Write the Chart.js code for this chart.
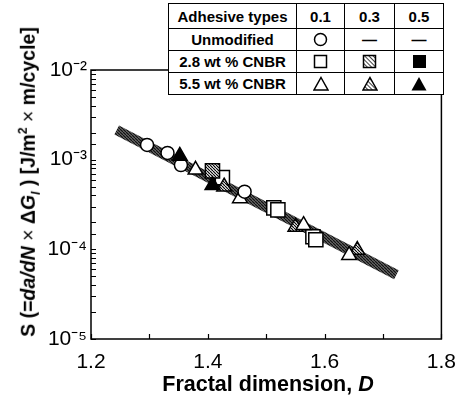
<!DOCTYPE html>
<html lang="en">
<head>
    <meta charset="UTF-8">
    <title>Fractal dimension vs S</title>
    <script src="https://cdn.jsdelivr.net/npm/chart.js@4.4.1/dist/chart.umd.min.js"></script>
    <style>
        body { margin: 0; background: #fff; font-family: "Liberation Sans", Arial, sans-serif; }
        #wrap { position: relative; width: 467px; height: 404px; }
        #ytitle {
            position: absolute; left: 29px; top: 182px;
            transform: translate(-50%, -50%) rotate(-90deg);
            white-space: nowrap; font-weight: bold; font-size: 19.5px;
        }
        #xtitle {
            position: absolute; left: 268px; top: 384px;
            transform: translate(-50%, -50%);
            white-space: nowrap; font-weight: bold; font-size: 21.5px;
        }
        .thin { font-weight: normal; }
        #types {
            position: absolute; left: 168px; top: 3px; width: 275px;
            border-collapse: collapse; table-layout: fixed; background: #fff;
            font-weight: bold; font-size: 15px;
        }
        #types td { border: 1.5px solid #000; text-align: center; padding: 0; height: 21px; }
        #types tr:first-child td { height: 24px; }
        #types svg { display: block; margin: 0 auto; }
    </style>
</head>
<body>
<div id="wrap">
    <canvas id="chart" width="467" height="404"></canvas>
    <div id="ytitle">S (=<i>da/dN</i> <span class="thin">×</span> Δ<i>G<sub style="font-size:12px">I</sub></i> ) [J/m<sup style="font-size:12px">2</sup> <span class="thin">×</span> m/cycle]</div>
    <div id="xtitle">Fractal dimension, <i>D</i></div>
    <svg width="0" height="0" style="position:absolute">
        <defs>
            <pattern id="hat" width="3" height="3" patternUnits="userSpaceOnUse" patternTransform="rotate(-45)">
                <line x1="0" y1="0" x2="0" y2="3" stroke="#000" stroke-width="1.5"/>
            </pattern>
        </defs>
    </svg>
    <table id="types">
        <colgroup><col style="width:128px"><col style="width:48px"><col style="width:50px"><col style="width:49px"></colgroup>
        <tr><td>Adhesive types</td><td>0.1</td><td>0.3</td><td>0.5</td></tr>
        <tr><td>Unmodified</td>
            <td><svg width="15" height="15"><circle cx="7.5" cy="7.5" r="6" fill="#fff" stroke="#000" stroke-width="1.5"/></svg></td>
            <td>—</td><td>—</td></tr>
        <tr><td>2.8 wt % CNBR</td>
            <td><svg width="15" height="15"><rect x="1.5" y="1.5" width="12" height="12" fill="#fff" stroke="#000" stroke-width="1.5"/></svg></td>
            <td><svg width="15" height="15"><rect x="1.5" y="1.5" width="12" height="12" fill="url(#hat)" stroke="#000" stroke-width="1.5"/></svg></td>
            <td><svg width="15" height="15"><rect x="1" y="1" width="13" height="13" fill="#000"/></svg></td></tr>
        <tr><td>5.5 wt % CNBR</td>
            <td><svg width="16" height="15"><polygon points="8,1.5 15,14 1,14" fill="#fff" stroke="#000" stroke-width="1.5"/></svg></td>
            <td><svg width="16" height="15"><polygon points="8,1.5 15,14 1,14" fill="url(#hat)" stroke="#000" stroke-width="1.5"/></svg></td>
            <td><svg width="16" height="15"><polygon points="8,1 15.5,14.5 0.5,14.5" fill="#000"/></svg></td></tr>
    </table>
</div>
<script>
// values: D (fractal dimension) and S (J/m^2 x m/cycle)
const unmodD   = [1.296, 1.331, 1.354, 1.463];
const unmodS   = [1.46e-3, 1.19e-3, 8.7e-4, 4.4e-4];
const sq01D    = [1.425, 1.513, 1.520, 1.580, 1.585];
const sq01S    = [6.3e-4, 2.9e-4, 2.75e-4, 1.38e-4, 1.28e-4];
const sq03D    = [1.408];
const sq03S    = [7.5e-4];
const tri01D   = [1.379, 1.455, 1.564, 1.642];
const tri01S   = [7.7e-4, 3.7e-4, 1.86e-4, 8.6e-5];
const tri03D   = [1.428, 1.550, 1.656];
const tri03S   = [5.0e-4, 1.78e-4, 9.8e-5];
const tri05D   = [1.352, 1.408];
const tri05S   = [1.1e-3, 5.2e-4];
const fitD     = [1.244, 1.723];
const fitS     = [2.14e-3, 5.2e-5];

const xTicks = [1.2, 1.4, 1.6, 1.8];
const yDecades = [1e-5, 1e-4, 1e-3, 1e-2];
const supers = { '2': '\u00B2', '3': '\u00B3', '4': '\u2074', '5': '\u2075' };

function pts(xs, ys) { return xs.map((x, i) => ({ x: x, y: ys[i] })); }

const canvas = document.getElementById('chart');
const ctx = canvas.getContext('2d');

function hatch(bg, fg, step, lw) {
    const c = document.createElement('canvas');
    c.width = c.height = step;
    const g = c.getContext('2d');
    g.fillStyle = bg; g.fillRect(0, 0, step, step);
    g.strokeStyle = fg; g.lineWidth = lw;
    g.beginPath();
    for (let k = -1; k <= 1; k++) { g.moveTo(k * step, 0); g.lineTo((k + 1) * step, step); }
    g.stroke();
    return ctx.createPattern(c, 'repeat');
}
const markHatch = hatch('#fff', '#000', 3, 1.2);
const bandHatch = hatch('#7a7a7a', '#111', 3, 1.3);

function marks(data, style, r, fill) {
    return {
        data: data, pointStyle: style, pointRadius: r, pointHoverRadius: r,
        backgroundColor: fill, borderColor: '#000', pointBorderWidth: 1.5, borderWidth: 1.5,
        showLine: false, order: 1
    };
}

const frame = {
    id: 'frame',
    afterDraw(chart) {
        const a = chart.chartArea, c = chart.ctx;
        c.save();
        c.strokeStyle = '#000';
        c.lineWidth = 1.5;
        c.strokeRect(a.left, a.top, a.right - a.left, a.bottom - a.top);
        c.lineWidth = 1.2;
        c.beginPath();
        chart.scales.y.ticks.forEach(t => {
            const p = Math.round(chart.scales.y.getPixelForValue(t.value)) + 0.5;
            c.moveTo(a.left, p); c.lineTo(a.left + 5, p);
        });
        chart.scales.x.ticks.forEach(t => {
            const p = Math.round(chart.scales.x.getPixelForValue(t.value)) + 0.5;
            c.moveTo(p, a.bottom); c.lineTo(p, a.bottom - 5);
        });
        c.stroke();
        c.restore();
    }
};

new Chart(ctx, {
    type: 'scatter',
    data: {
        datasets: [
            marks(pts(tri05D, tri05S), 'triangle', 8.5, '#000'),
            marks(pts(unmodD, unmodS), 'circle', 6.5, '#fff'),
            marks(pts(tri01D, tri01S), 'triangle', 8.5, '#fff'),
            marks(pts(tri03D, tri03S), 'triangle', 8.5, markHatch),
            marks(pts(sq03D, sq03S), 'rect', 10, markHatch),
            marks(pts(sq01D, sq01S), 'rect', 10, '#fff'),
            {
                data: pts(fitD, fitS), showLine: true, borderColor: bandHatch, borderWidth: 10,
                pointRadius: 0, borderCapStyle: 'butt', order: 10
            }
        ]
    },
    options: {
        responsive: false,
        animation: false,
        layout: { padding: { top: 70, right: 18, left: 0, bottom: 0 } },
        plugins: { legend: { display: false }, tooltip: { enabled: false } },
        scales: {
            x: {
                type: 'linear', min: 1.2, max: 1.8,
                grid: { display: false, drawTicks: false }, border: { display: false },
                afterFit: s => { s.height = 65; },
                ticks: {
                    stepSize: 0.1, autoSkip: false, padding: 11, color: '#000',
                    font: { family: 'Liberation Sans, Arial', size: 21 },
                    callback: v => xTicks.some(t => Math.abs(t - v) < 1e-6) ? v.toFixed(1) : ''
                }
            },
            y: {
                type: 'logarithmic', min: yDecades[0], max: yDecades[yDecades.length - 1],
                grid: { display: false, drawTicks: false }, border: { display: false },
                afterFit: s => { s.width = 91; },
                ticks: {
                    autoSkip: false, padding: 4, color: '#000',
                    font: { family: 'Liberation Sans, Arial', size: 21 },
                    callback: v => {
                        const e = Math.log10(v);
                        if (Math.abs(e - Math.round(e)) > 1e-6) return '';
                        return '10\u207B' + supers[String(-Math.round(e))];
                    }
                }
            }
        }
    },
    plugins: [frame]
});
</script>
</body>
</html>
